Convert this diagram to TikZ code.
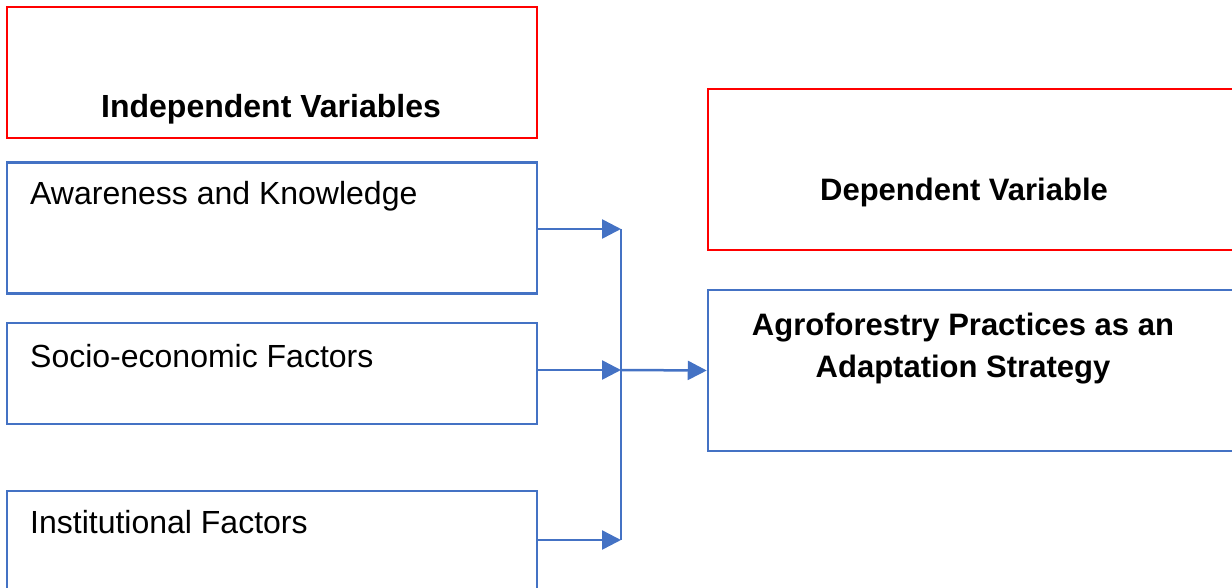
\documentclass[tikz,border=0pt]{standalone}
\usepackage{fontspec}
\setmainfont{Liberation Sans}
\usetikzlibrary{arrows.meta}
\definecolor{boxred}{HTML}{FF0000}
\definecolor{boxblue}{HTML}{4472C4}
\tikzset{
  redbox/.style={draw=boxred, line width=2.5pt, rectangle, inner sep=0pt},
  bluebox/.style={draw=boxblue, line width=2.5pt, rectangle, inner sep=0pt},
  conn/.style={draw=boxblue, line width=2.5pt},
  arr/.style={conn, -{Triangle[length=19pt,width=19pt]}},
  lab/.style={inner sep=0pt, font=\fontsize{32}{38}\selectfont},
  blab/.style={lab, font=\fontsize{32}{38}\selectfont\bfseries},
  blabr/.style={lab, font=\fontsize{31}{37}\selectfont\bfseries}
}
\begin{document}
\begin{tikzpicture}[x=1pt,y=-1pt]
\useasboundingbox (0,0) rectangle (1232,588);
\clip (0,0) rectangle (1232,588);
% left boxes
\node[redbox, minimum width=530pt, minimum height=131pt] (iv) at (272,72.5) {};
\node[bluebox, minimum width=530pt, minimum height=131pt] (aw) at (272,228) {};
\node[bluebox, minimum width=530pt, minimum height=101pt] (se) at (272,373.5) {};
\node[bluebox, minimum width=530pt, minimum height=98pt] (in) at (272,540) {};
% right boxes
\node[redbox, minimum width=540pt, minimum height=161pt] (dv) at (978,169.5) {};
\node[bluebox, minimum width=540pt, minimum height=161pt] (ag) at (978,370.5) {};
% labels
\node[blab, anchor=base] (ivt) at (271,118) {Independent Variables};
\node[lab, anchor=base west] (awt) at (30,205) {Awareness and Knowledge};
\node[lab, anchor=base west] (set) at (30,367) {Socio-economic Factors};
\node[lab, anchor=base west] (int) at (30,533) {Institutional Factors};
\node[blabr, anchor=base] (dvt) at (964,201) {Dependent Variable};
\node[blabr, anchor=base] (agt1) at (963,335) {Agroforestry Practices as an};
\node[blabr, anchor=base] (agt2) at (963,377) {Adaptation Strategy};
% connectors
\coordinate (m) at (621,370);
\coordinate (mt) at (621,229);
\coordinate (mb) at (621,540);
\draw[arr] (aw.east |- mt) -- (mt);
\draw[arr] (se.east |- m) -- (m);
\draw[arr] (in.east |- mb) -- (mb);
\draw[conn] (mt) -- (mb);
\draw[arr] (m) -- (ag.west);
\end{tikzpicture}
\end{document}
